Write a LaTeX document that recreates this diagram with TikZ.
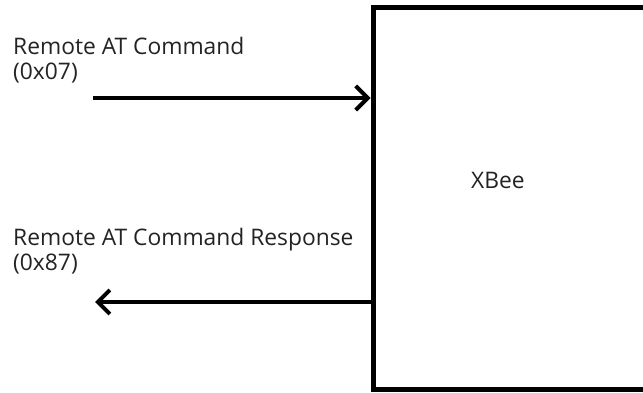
\documentclass[tikz,border=0pt]{standalone}
\usepackage{fontspec}
\setmainfont{Open Sans}
\usetikzlibrary{arrows.meta}
\definecolor{txt}{RGB}{35,35,35}
\begin{document}
\begin{tikzpicture}[x=1pt,y=-1pt,
  lbl/.style={anchor=base west,align=left,text=txt,inner sep=0pt,font=\fontsize{22.8}{25}\selectfont},
  flow/.style={line width=4pt,-{Straight Barb[length=12pt,width=24pt]}},
  device/.style={draw,line width=5pt,minimum width=327pt,minimum height=381pt,inner sep=0pt}]
\useasboundingbox (0,0) rectangle (643,393);
\node[device] (box) at (536.5,198.5) {};
\node[anchor=base west,inner sep=0pt,text=txt,font=\fontsize{22.8}{25}\selectfont] (xbee) at (471,188.3) {XBee};
\node[lbl] (l1) at (13,80) {Remote AT Command\\(0x07)};
\node[lbl] (l2) at (13,270) {Remote AT Command Response\\(0x87)};
\coordinate (s1) at (93,98);
\coordinate (e2) at (95,302);
\draw[flow] (s1) -- (s1 -| box.west);
\draw[flow] (e2 -| box.west) -- (e2);
\end{tikzpicture}
\end{document}
